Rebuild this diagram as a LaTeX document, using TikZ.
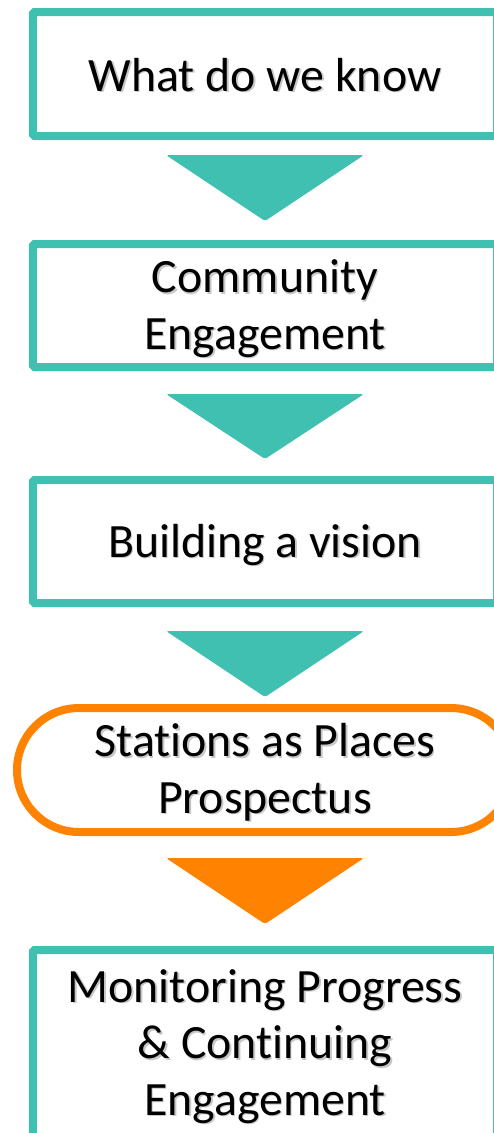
\documentclass[tikz,border=0pt]{standalone}
\usepackage{fontspec}
\setmainfont{Carlito}[Ligatures={NoCommon}]
\definecolor{teal1}{RGB}{64,192,176}
\definecolor{orange1}{RGB}{255,130,0}
\begin{document}
\begin{tikzpicture}[x=1bp,y=-1bp,
  stepbox/.style={draw=teal1, line width=8bp, rounded corners=1.5bp, fill=white, minimum width=464bp, inner sep=0pt},
  pill/.style={draw=orange1, line width=8bp, rounded corners=62bp, fill=white, minimum width=496bp, minimum height=124bp, inner sep=0pt},
  lbl/.style={font=\fontsize{48}{56.5}\selectfont, align=center, anchor=base, inner sep=0pt, text=black},
  shd/.style={lbl, text=black, opacity=0.22},
  tri/.style={fill=#1, rounded corners=2.5bp},
]
\useasboundingbox (0,0) rectangle (494,1133);
\clip (0,0) rectangle (494,1133);
\fill[white] (0,0) rectangle (494,1133);
% boxes
\node[stepbox, minimum height=124bp] (b1) at (265,74) {};
\node[stepbox, minimum height=123bp] (b2) at (265,305.5) {};
\node[stepbox, minimum height=123bp] (b3) at (265,541.5) {};
\node[pill] (b4) at (265,770) {};
\node[stepbox, minimum height=200bp] (b5) at (265,1050) {};
% arrows
\fill[tri=teal1] (166,155) -- (364,155) -- (265,221) -- cycle;
\fill[tri=teal1] (166,394) -- (364,394) -- (265,459) -- cycle;
\fill[tri=teal1] (166,631) -- (364,631) -- (265,697) -- cycle;
\fill[tri=orange1] (166,858) -- (364,858) -- (265,924) -- cycle;
% text shadows
\node[shd] at (266.5,92.5) {What do we know};
\node[shd] at (266.5,350.5) {Community\\Engagement};
\node[shd] at (266.5,558.5) {Building a vision};
\node[shd] at (266.5,814.5) {Stations as Places\\Prospectus};
\node[shd] at (266.5,1116.5) {Monitoring Progress\\\& Continuing\\Engagement};
% labels
\node[lbl] (t1) at (265,91) {What do we know};
\node[lbl] (t2) at (265,349) {Community\\Engagement};
\node[lbl] (t3) at (265,557) {Building a vision};
\node[lbl] (t4) at (265,813) {Stations as Places\\Prospectus};
\node[lbl] (t5) at (265,1115) {Monitoring Progress\\\& Continuing\\Engagement};
\end{tikzpicture}
\end{document}
